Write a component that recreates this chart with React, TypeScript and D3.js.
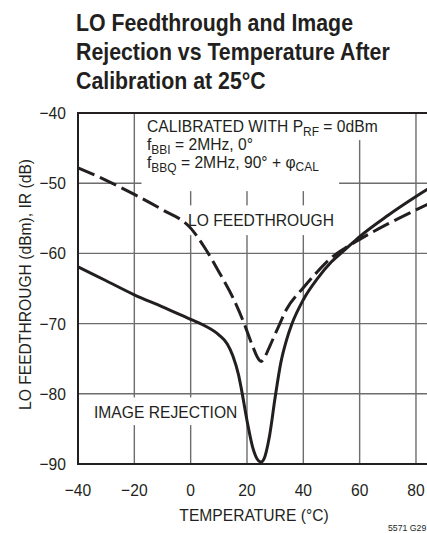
import React, { useEffect, useRef } from 'react';
import * as d3 from 'd3';

// ---- data ----
const loTemps = [-40, -30, -20, -10, 0, 5, 10, 15, 19, 22, 24, 25, 26, 28, 31, 34, 40, 45, 50, 55, 60, 70, 80, 90, 100];
const loFeedthrough = [-47.8, -49.6, -51.6, -53.8, -56.4, -59.2, -62.6, -66.3, -70.0, -73.2, -75.0, -75.4, -75.0, -73.3, -70.6, -68.0, -64.9, -62.6, -60.6, -59.2, -58.0, -55.8, -53.8, -51.9, -50.0];

const irTemps = [-40, -30, -20, -10, 0, 5, 10, 13, 15, 17, 18, 20, 22, 24, 25, 26, 28, 30, 32, 34, 36, 40, 45, 50, 55, 60, 70, 80, 90, 100];
const imageRejection = [-61.9, -63.9, -65.9, -67.6, -69.4, -70.3, -71.6, -72.9, -74.6, -77.3, -79.3, -83.8, -87.6, -89.5, -89.7, -89.3, -86.0, -80.5, -75.6, -72.4, -70.0, -66.6, -63.6, -61.2, -59.4, -57.6, -54.6, -51.9, -49.4, -47.0];

const xTicks = [-40, -20, 0, 20, 40, 60, 80];
const yTicks = [-40, -50, -60, -70, -80, -90];
const xDomain = [-40, 100];
const yDomain = [-90, -40];

const titleLines = ['LO Feedthrough and Image', 'Rejection vs Temperature After', 'Calibration at 25°C'];
const xAxisTitle = 'TEMPERATURE (°C)';
const yAxisTitle = 'LO FEEDTHROUGH (dBm), IR (dB)';
const loLabel = 'LO FEEDTHROUGH';
const irLabel = 'IMAGE REJECTION';
const partCode = '5571 G29';

export default function App() {
  const ref = useRef<SVGSVGElement>(null);

  useEffect(() => {
    document.body.style.margin = '0';
    const svg = d3.select(ref.current);
    svg.selectAll('*').remove();

    const ink = '#231f20';
    const gridColor = '#6d6d6d';
    const font = "'Liberation Sans', Arial, sans-serif";
    const fs = 17;
    const sx = 0.92; // horizontal condensing of body text
    const tsx = 0.87; // horizontal condensing of title

    const left = 78, top = 113, bottom = 464;
    const pxPer20 = 56.33;
    const x = d3.scaleLinear().domain(xDomain).range([left, left + (xDomain[1] - xDomain[0]) / 20 * pxPer20]);
    const y = d3.scaleLinear().domain(yDomain).range([bottom, top]);

    // title
    svg.append('g').selectAll('text').data(titleLines).join('text')
      .attr('transform', (_d, i) => `translate(76,${31 + i * 29}) scale(${tsx},1)`)
      .attr('font-family', font).attr('font-weight', 'bold').attr('font-size', 24.5)
      .attr('fill', ink).text(d => d);

    // gridlines
    const grid = svg.append('g').attr('stroke', gridColor).attr('stroke-width', 1.4);
    grid.selectAll('line.v').data(xTicks.filter(t => t > xDomain[0])).join('line')
      .attr('x1', d => x(d)).attr('x2', d => x(d)).attr('y1', top).attr('y2', bottom);
    grid.selectAll('line.h').data(yTicks.filter(t => t > yDomain[0] && t < yDomain[1])).join('line')
      .attr('x1', left).attr('x2', x(xDomain[1])).attr('y1', d => y(d)).attr('y2', d => y(d));

    const bb = (s: any) => (s.node() as SVGTextElement).getBBox();

    // annotation block (white backing interrupts grid)
    const ann = svg.append('g').attr('transform', `translate(147,0) scale(${sx},1)`)
      .attr('font-family', font).attr('font-size', fs).attr('fill', ink);
    const annBoxes = ann.append('g').attr('fill', '#fff');
    const l1 = ann.append('text').attr('y', 132);
    l1.append('tspan').text('CALIBRATED WITH P');
    l1.append('tspan').attr('font-size', 13).attr('dy', 4).text('RF');
    l1.append('tspan').attr('dy', -4).text(' = 0dBm');
    const l2 = ann.append('text').attr('y', 150);
    l2.append('tspan').text('f');
    l2.append('tspan').attr('font-size', 13).attr('dy', 4).text('BBI');
    l2.append('tspan').attr('dy', -4).text(' = 2MHz, 0°');
    const l3 = ann.append('text').attr('y', 168);
    l3.append('tspan').text('f');
    l3.append('tspan').attr('font-size', 13).attr('dy', 4).text('BBQ');
    l3.append('tspan').attr('dy', -4).text(' = 2MHz, 90° + φ');
    l3.append('tspan').attr('font-size', 13).attr('dy', 3).text('CAL');
    const b1 = bb(l1), b2 = bb(l2), b3 = bb(l3);
    annBoxes.append('rect').attr('x', -6).attr('y', top + 1).attr('width', b1.width + 16).attr('height', b1.y + b1.height - top);
    const w23 = Math.max(b2.width, b3.width);
    annBoxes.append('rect').attr('x', -6).attr('y', b2.y - 2).attr('width', w23 + 28).attr('height', b3.y + b3.height - b2.y + 18);

    // curve labels
    const addLabel = (tx: number, ty: number, txt: string, padTop: number, padBottom: number) => {
      const g = svg.append('g').attr('transform', `translate(${tx},${ty}) scale(${sx},1)`);
      const r = g.append('rect').attr('fill', '#fff');
      const t = g.append('text').attr('font-family', font).attr('font-size', fs).attr('fill', ink).text(txt);
      const b = bb(t);
      r.attr('x', b.x - 8).attr('y', b.y - padTop).attr('width', b.width + 16).attr('height', b.height + padTop + padBottom);
    };
    addLabel(188, 226, loLabel, 5, 6);
    addLabel(94, 418, irLabel, 5, 4);

    // frame
    const frame = svg.append('g').attr('stroke', ink).attr('stroke-width', 2);
    frame.append('line').attr('x1', left).attr('x2', left).attr('y1', top - 1).attr('y2', bottom + 1);
    frame.append('line').attr('x1', left).attr('x2', x(xDomain[1])).attr('y1', top).attr('y2', top);
    frame.append('line').attr('x1', left).attr('x2', x(xDomain[1])).attr('y1', bottom).attr('y2', bottom);

    // curves
    const clipId = 'plotclip';
    svg.append('clipPath').attr('id', clipId).append('rect')
      .attr('x', left).attr('y', top).attr('width', x(xDomain[1]) - left).attr('height', bottom - top);
    const line = d3.line<[number, number]>().x(d => x(d[0])).y(d => y(d[1])).curve(d3.curveMonotoneX);
    const curves = svg.append('g').attr('clip-path', `url(#${clipId})`).attr('fill', 'none').attr('stroke', ink).attr('stroke-width', 3);
    curves.append('path').attr('d', line(loTemps.map((t, i) => [t, loFeedthrough[i]] as [number, number])))
      .attr('stroke-dasharray', '18,6');
    curves.append('path').attr('d', line(irTemps.map((t, i) => [t, imageRejection[i]] as [number, number])));

    // tick labels
    const ticks = svg.append('g').attr('font-family', font).attr('font-size', fs).attr('fill', ink);
    ticks.selectAll('text.y').data(yTicks).join('text')
      .attr('transform', d => `translate(66,${y(d)}) scale(${sx},1)`).attr('dy', '0.35em').attr('text-anchor', 'end')
      .text(d => String(d).replace('-', '−'));
    ticks.selectAll('text.x').data(xTicks).join('text')
      .attr('transform', d => `translate(${x(d)},496) scale(${sx},1)`).attr('text-anchor', 'middle')
      .text(d => String(d).replace('-', '−'));

    // axis titles
    ticks.append('text').attr('transform', `translate(254,521) scale(${sx},1)`).attr('text-anchor', 'middle').text(xAxisTitle);
    ticks.append('text').attr('transform', `translate(31,${(top + bottom) / 2 - 4}) rotate(-90) scale(${sx},1)`).attr('text-anchor', 'middle').text(yAxisTitle);
    svg.append('text').attr('transform', `translate(388,531) scale(${sx},1)`).attr('font-family', font).attr('font-size', 9.5).attr('fill', ink).text(partCode);
  }, []);

  return <svg ref={ref} width={427} height={533} style={{ display: 'block', background: '#fff' }} />;
}
